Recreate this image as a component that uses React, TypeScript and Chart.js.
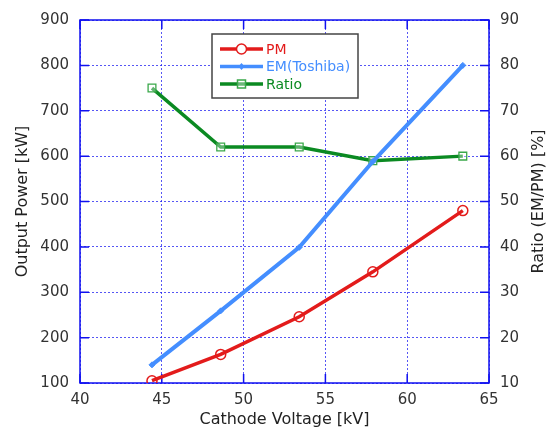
import { useEffect, useRef } from "react";
import { Chart, registerables } from "chart.js";

Chart.register(...registerables);

const voltage = [44.4, 48.6, 53.4, 57.9, 63.4];
const pmPower = [105, 163, 246, 345, 480];
const emPower = [140, 259, 399, 588, 800];
const ratioPct = [75, 62, 62, 59, 60];
const xTickValues = [40, 45, 50, 55, 60, 65];
const leftTickValues = [100, 200, 300, 400, 500, 600, 700, 800, 900];
const rightTickValues = [10, 20, 30, 40, 50, 60, 70, 80, 90];
const seriesLabels = ["PM", "EM(Toshiba)", "Ratio"];
const xTitle = "Cathode Voltage [kV]";
const leftTitle = "Output Power [kW]";
const rightTitle = "Ratio (EM/PM) [%]";

const RED = "#e31b1b";
const BLUE = "#448eff";
const GREEN = "#0b8a22";
const FRAME = "#1010f0";
const FONT = "'DejaVu Sans', sans-serif";

const framePlugin = {
  id: "frameTicks",
  beforeDatasetsDraw(chart: any) {
    const { ctx, chartArea, scales } = chart;
    const { left, right, top, bottom } = chartArea;
    const len = 9;
    ctx.save();
    ctx.strokeStyle = FRAME;
    ctx.lineWidth = 1.5;
    ctx.beginPath();
    xTickValues.forEach((v) => {
      const px = scales.x.getPixelForValue(v);
      ctx.moveTo(px, bottom);
      ctx.lineTo(px, bottom - len);
      ctx.moveTo(px, top);
      ctx.lineTo(px, top + len);
    });
    leftTickValues.forEach((v) => {
      const py = scales.y.getPixelForValue(v);
      ctx.moveTo(left, py);
      ctx.lineTo(left + len, py);
    });
    rightTickValues.forEach((v) => {
      const py = scales.y2.getPixelForValue(v);
      ctx.moveTo(right, py);
      ctx.lineTo(right - len, py);
    });
    ctx.stroke();
    ctx.strokeRect(left, top, right - left, bottom - top);
    ctx.restore();
  },
  afterDraw(chart: any) {
    const { ctx, chartArea } = chart;
    const { left, top, bottom } = chartArea;
    ctx.save();
    // right axis title (reads bottom to top)
    ctx.fillStyle = "#222";
    ctx.font = `16px ${FONT}`;
    ctx.textAlign = "center";
    ctx.textBaseline = "middle";
    ctx.translate(539, (top + bottom) / 2);
    ctx.rotate(-Math.PI / 2);
    ctx.fillText(rightTitle, 0, 0);
    ctx.restore();

    // legend box
    ctx.save();
    const bx = left + 132;
    const by = top + 14;
    const bw = 146;
    const bh = 64;
    ctx.fillStyle = "#ffffff";
    ctx.fillRect(bx, by, bw, bh);
    ctx.strokeStyle = "#444";
    ctx.lineWidth = 1.5;
    ctx.strokeRect(bx, by, bw, bh);
    const colors = [RED, BLUE, GREEN];
    ctx.font = `14px ${FONT}`;
    ctx.textBaseline = "middle";
    ctx.textAlign = "left";
    seriesLabels.forEach((label, i) => {
      const y = by + 15 + i * 17.5;
      const x0 = bx + 8;
      const x1 = bx + 51;
      const cx = (x0 + x1) / 2;
      ctx.strokeStyle = colors[i];
      ctx.lineWidth = 3.5;
      ctx.beginPath();
      ctx.moveTo(x0, y);
      ctx.lineTo(x1, y);
      ctx.stroke();
      ctx.lineWidth = 1.5;
      if (i === 0) {
        ctx.fillStyle = "#fff";
        ctx.beginPath();
        ctx.arc(cx, y, 5, 0, Math.PI * 2);
        ctx.fill();
        ctx.stroke();
      } else if (i === 1) {
        ctx.fillStyle = BLUE;
        ctx.beginPath();
        ctx.moveTo(cx, y - 3.5);
        ctx.lineTo(cx + 3, y);
        ctx.lineTo(cx, y + 3.5);
        ctx.lineTo(cx - 3, y);
        ctx.closePath();
        ctx.fill();
      } else {
        ctx.strokeStyle = "#3aa84a";
        ctx.fillStyle = "rgba(255,255,255,0.4)";
        ctx.fillRect(cx - 4, y - 4, 8, 8);
        ctx.strokeRect(cx - 4, y - 4, 8, 8);
      }
      ctx.fillStyle = colors[i];
      ctx.fillText(label, bx + 54, y + 1);
    });
    ctx.restore();
  },
};

export default function App() {
  const canvasRef = useRef<HTMLCanvasElement | null>(null);

  useEffect(() => {
    if (!canvasRef.current) return;
    const toXY = (ys: number[]) => voltage.map((x, i) => ({ x, y: ys[i] }));
    const tickFont = { family: FONT, size: 15 };
    const gridColor = "rgba(30,30,240,0.75)";
    const chart = new Chart(canvasRef.current, {
      type: "line",
      data: {
        datasets: [
          {
            label: seriesLabels[0],
            data: toXY(pmPower),
            yAxisID: "y",
            borderColor: RED,
            borderWidth: 3.5,
            pointStyle: "circle",
            pointRadius: 5,
            pointBorderWidth: 1.5,
            pointBorderColor: RED,
            pointBackgroundColor: "rgba(255,255,255,0)",
          },
          {
            label: seriesLabels[1],
            data: toXY(emPower),
            yAxisID: "y",
            borderColor: BLUE,
            borderWidth: 4,
            pointStyle: "rectRot",
            pointRadius: 3,
            pointBorderWidth: 1,
            pointBorderColor: BLUE,
            pointBackgroundColor: BLUE,
          },
          {
            label: seriesLabels[2],
            data: toXY(ratioPct),
            yAxisID: "y2",
            borderColor: GREEN,
            borderWidth: 3.5,
            pointStyle: "rect",
            pointRadius: 5.5,
            pointBorderWidth: 1.3,
            pointBorderColor: "#3aa84a",
            pointBackgroundColor: "rgba(255,255,255,0.35)",
          },
        ],
      },
      options: {
        animation: false,
        responsive: true,
        maintainAspectRatio: false,
        layout: { padding: { top: 16, left: 0, right: 0, bottom: 0 } },
        plugins: {
          legend: { display: false },
          tooltip: { enabled: false },
        },
        elements: { line: { tension: 0 } },
        scales: {
          x: {
            type: "linear",
            min: 40,
            max: 65,
            afterBuildTicks: (scale: any) => {
              scale.ticks = xTickValues.map((v) => ({ value: v }));
            },
            afterFit: (scale: any) => {
              scale.height = 50;
            },
            ticks: { font: tickFont, color: "#333", padding: 8 },
            grid: { color: gridColor, lineWidth: 1, drawTicks: false },
            border: { display: false, dash: [2, 2] },
            title: {
              display: true,
              text: xTitle,
              color: "#222",
              font: { family: FONT, size: 16 },
              padding: { top: 0, bottom: 4 },
            },
          },
          y: {
            type: "linear",
            position: "left",
            min: 100,
            max: 900,
            afterBuildTicks: (scale: any) => {
              scale.ticks = leftTickValues.map((v) => ({ value: v }));
            },
            afterFit: (scale: any) => {
              scale.width = 80;
            },
            ticks: { font: tickFont, color: "#333", padding: 11 },
            grid: { color: gridColor, lineWidth: 1, drawTicks: false },
            border: { display: false, dash: [2, 2] },
            title: {
              display: true,
              text: leftTitle,
              color: "#222",
              font: { family: FONT, size: 16 },
              padding: { top: 13, bottom: 0 },
            },
          },
          y2: {
            type: "linear",
            position: "right",
            min: 10,
            max: 90,
            afterBuildTicks: (scale: any) => {
              scale.ticks = rightTickValues.map((v) => ({ value: v }));
            },
            afterFit: (scale: any) => {
              scale.width = 71;
            },
            ticks: { font: tickFont, color: "#333", padding: 11 },
            grid: { drawOnChartArea: false, drawTicks: false },
            border: { display: false },
            title: { display: false },
          },
        },
      },
      plugins: [framePlugin],
    });
    return () => chart.destroy();
  }, []);

  return (
    <div
      style={{
        position: "fixed",
        left: 0,
        top: 0,
        width: 560,
        height: 433,
        background: "#fff",
      }}
    >
      <canvas ref={canvasRef} />
    </div>
  );
}
